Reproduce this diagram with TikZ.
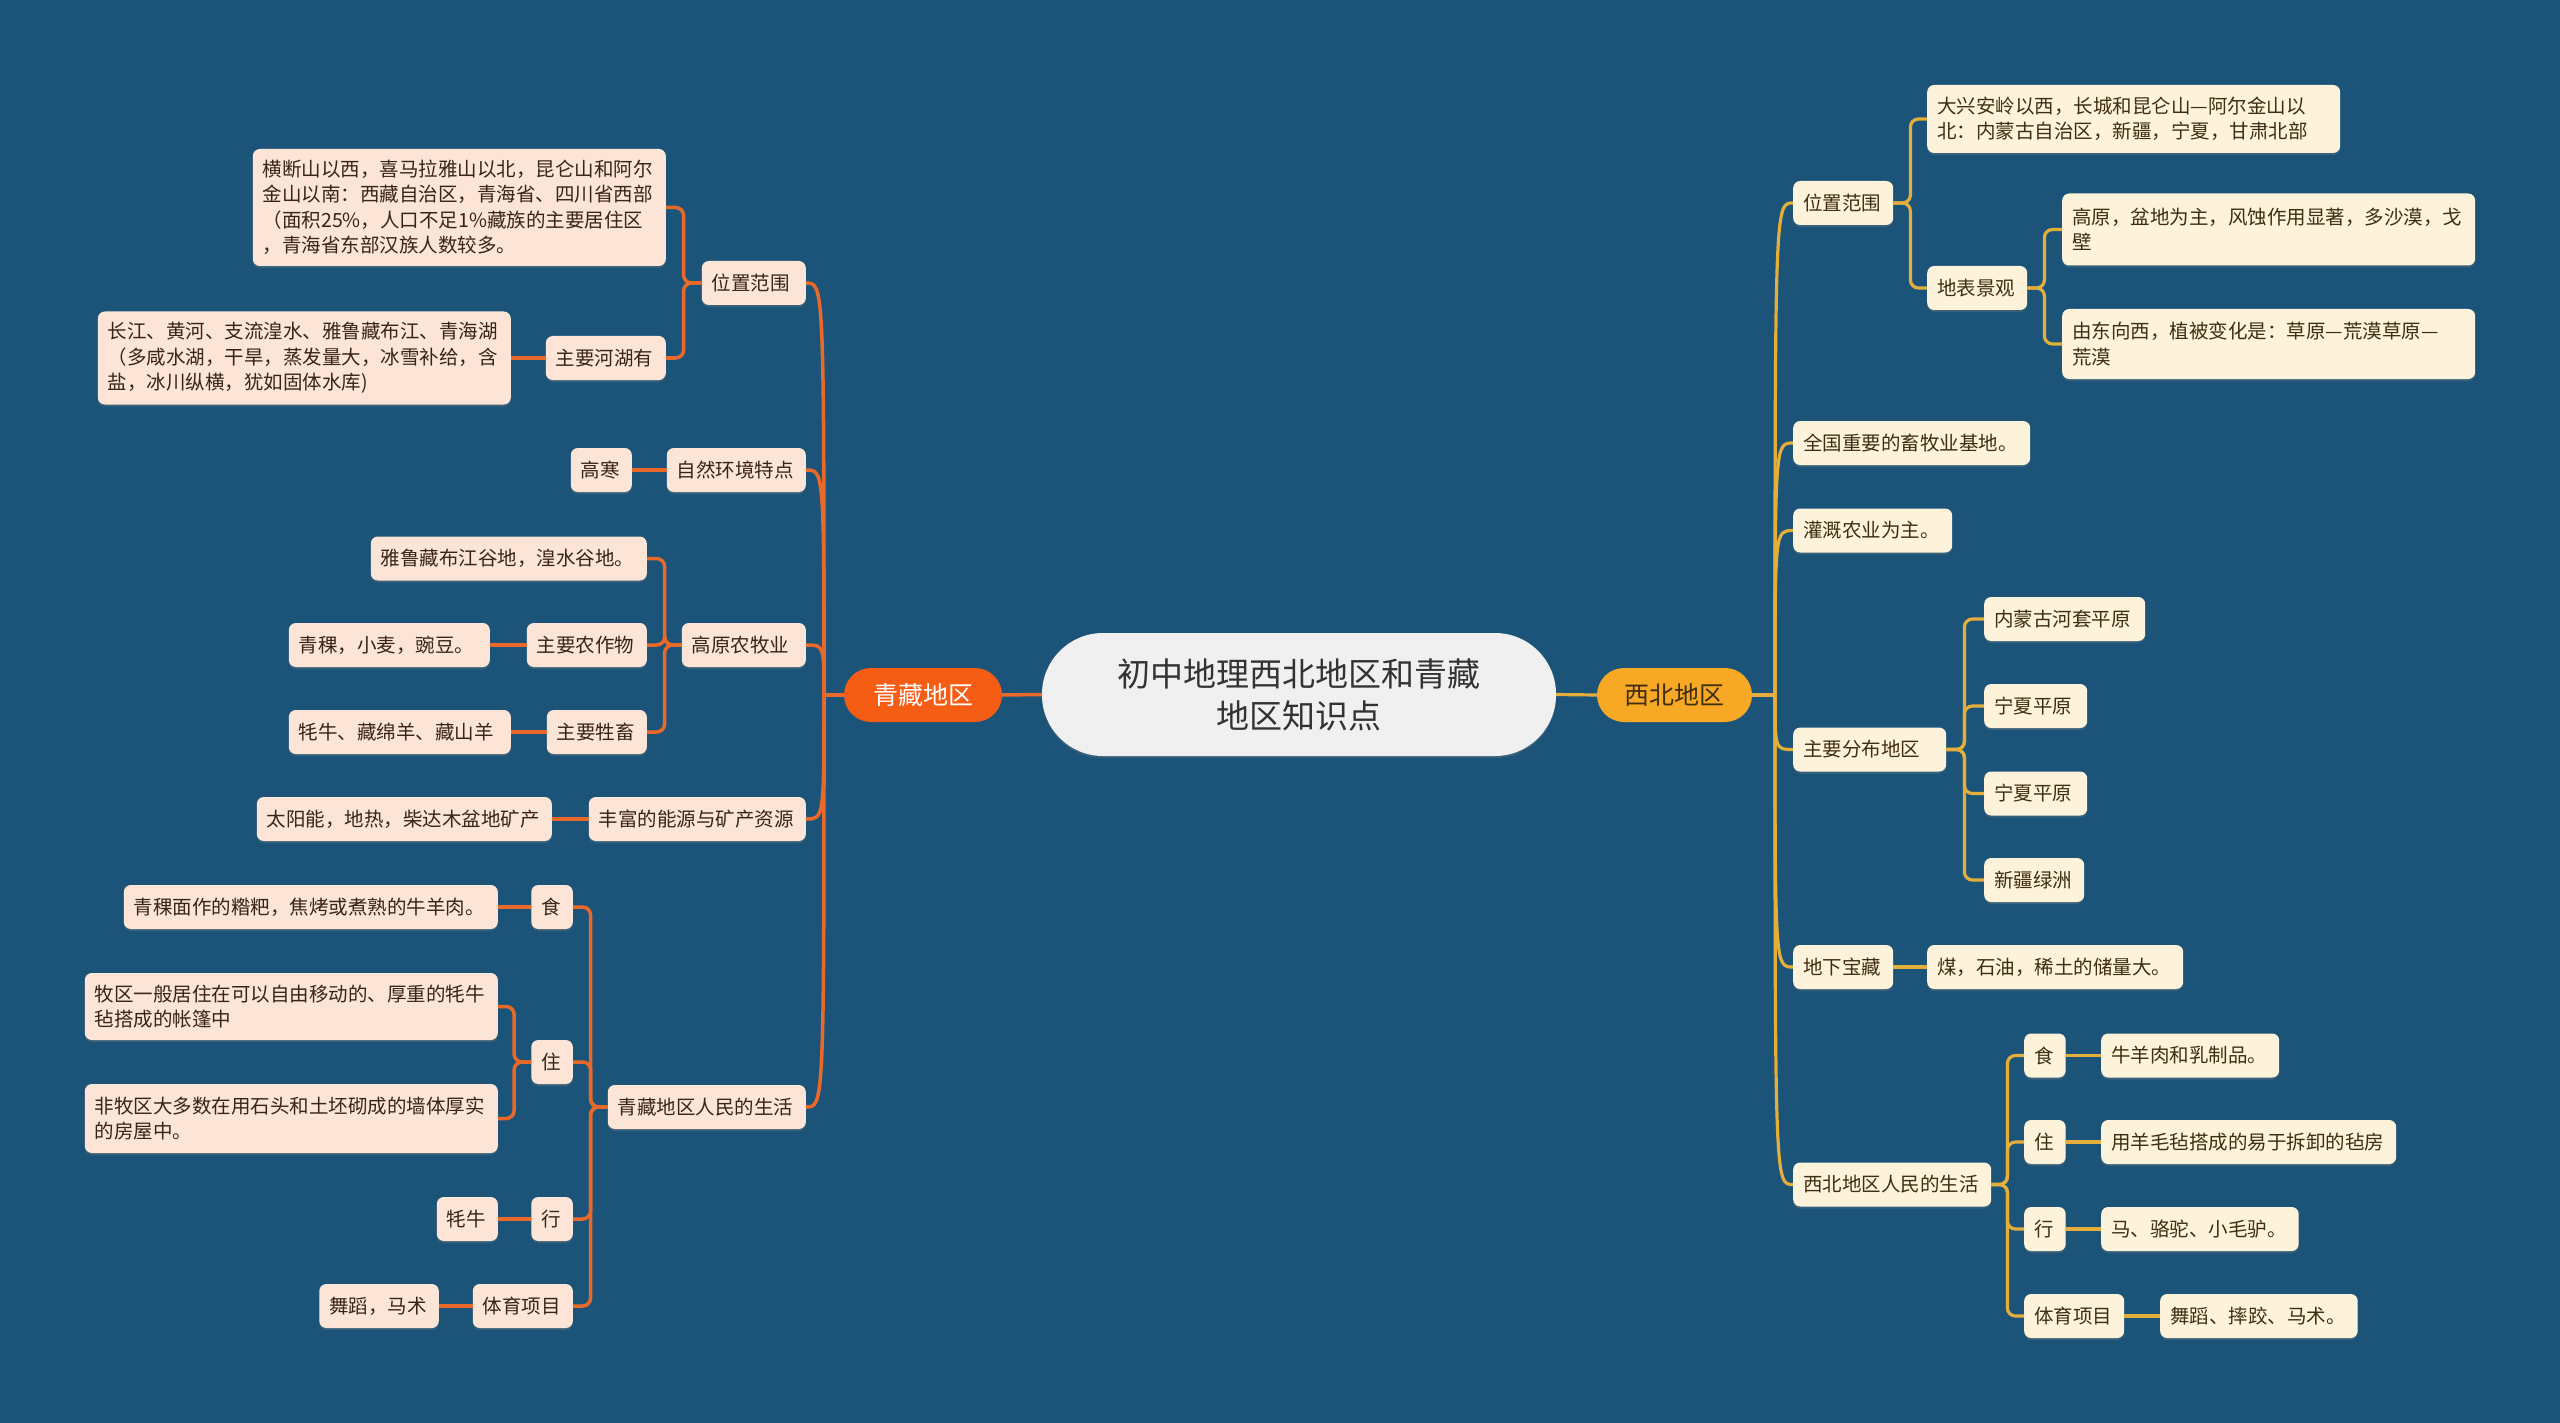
\documentclass[tikz,border=0pt]{standalone}
\usepackage{fontspec}
\setmainfont{Noto Sans CJK SC}
\usetikzlibrary{shadows}
\definecolor{bg}{HTML}{1B5478}
\definecolor{lfill}{HTML}{FCE4D6}
\definecolor{rfill}{HTML}{FDF2DA}
\definecolor{ltext}{HTML}{3A2418}
\definecolor{rtext}{HTML}{3F2E12}
\definecolor{lline}{HTML}{E8692A}
\definecolor{rline}{HTML}{E3AE3C}
\definecolor{qzfill}{HTML}{F55D15}
\definecolor{xbfill}{HTML}{F7A824}
\definecolor{rootfill}{HTML}{F0F0F0}
\tikzset{
  box/.style={rounded corners=7pt, inner xsep=10pt, inner ysep=0pt, align=left,
    font=\fontsize{19.5}{25.5}\selectfont, minimum height=44pt,
    drop shadow={shadow xshift=0pt,shadow yshift=-2pt,opacity=0.3}},
  lbox/.style={box, fill=lfill, text=ltext, anchor=east},
  rbox/.style={box, fill=rfill, text=rtext, anchor=west},
  lc/.style={draw=lline, line width=3.5pt},
  rc/.style={draw=rline, line width=3.2pt},
  elbow/.style={rounded corners=8pt},
}
\begin{document}
\begin{tikzpicture}[x=1pt,y=-1pt]
\fill[bg] (0,0) rectangle (2560,1423);
\useasboundingbox (0,0) rectangle (2560,1423);

% root and main branches
\node[rounded corners=61pt, fill=rootfill, text=black!80, align=center,
  font=\fontsize{33}{42}\selectfont, minimum width=514pt, minimum height=123pt,
  drop shadow={shadow xshift=0pt,shadow yshift=-2pt,opacity=0.3}] (root) at (1299,694.5) {初中地理西北地区和青藏\\地区知识点};
\node[rounded corners=27pt, fill=qzfill, text=white, font=\fontsize{25}{30}\selectfont,
  minimum width=158pt, minimum height=54pt, inner sep=0pt] (qz) at (923,695) {青藏地区};
\node[rounded corners=27pt, fill=xbfill, text=rtext, font=\fontsize{25}{30}\selectfont,
  minimum width=155pt, minimum height=54pt, inner sep=0pt] (xb) at (1674.5,695) {西北地区};

% left level 1
\node[lbox, text width=84pt] (lwz) at (806,283) {位置范围};
\node[lbox, text width=119pt] (lzr) at (806,470) {自然环境特点};
\node[lbox, text width=104pt] (lgy) at (806,645) {高原农牧业};
\node[lbox, text width=197pt] (lny) at (806,819) {丰富的能源与矿产资源};
\node[lbox, text width=178pt] (lsh) at (806,1107) {青藏地区人民的生活};

% left level 2+
\node[lbox, text width=393pt, minimum height=117pt] (lwza) at (666,207.5) {横断山以西，喜马拉雅山以北，昆仑山和阿尔\\金山以南：西藏自治区，青海省、四川省西部\\（面积25\%，人口不足1\%藏族的主要居住区\\，青海省东部汉族人数较多。};
\node[lbox, text width=100pt] (lhh) at (666,358) {主要河湖有};
\node[lbox, text width=393pt, minimum height=93pt] (lhha) at (511,358) {长江、黄河、支流湟水、雅鲁藏布江、青海湖\\（多咸水湖，干旱，蒸发量大，冰雪补给，含\\盐，冰川纵横，犹如固体水库)};
\node[lbox, text width=41pt] (lgh) at (632,470) {高寒};
\node[lbox, text width=256pt] (lgd) at (647,558.5) {雅鲁藏布江谷地，湟水谷地。};
\node[lbox, text width=100pt] (lnz) at (647,645) {主要农作物};
\node[lbox, text width=181pt] (lnza) at (490,645) {青稞，小麦，豌豆。};
\node[lbox, text width=80pt] (lss) at (647,732) {主要牲畜};
\node[lbox, text width=202pt] (lssa) at (511,732) {牦牛、藏绵羊、藏山羊};
\node[lbox, text width=275pt] (lnya) at (552,819) {太阳能，地热，柴达木盆地矿产};
\node[lbox, text width=21.5pt] (ls) at (573,907) {食};
\node[lbox, text width=354pt] (lsa) at (498,907) {青稞面作的糌粑，焦烤或煮熟的牛羊肉。};
\node[lbox, text width=21.5pt] (lz) at (573,1062) {住};
\node[lbox, text width=393pt, minimum height=67pt] (lza) at (498,1006.5) {牧区一般居住在可以自由移动的、厚重的牦牛\\毡搭成的帐篷中};
\node[lbox, text width=393pt, minimum height=69pt] (lzb) at (498,1118.5) {非牧区大多数在用石头和土坯砌成的墙体厚实\\的房屋中。};
\node[lbox, text width=21.5pt] (lx) at (573,1219) {行};
\node[lbox, text width=41pt] (lxa) at (498,1219) {牦牛};
\node[lbox, text width=80pt] (lty) at (573,1306) {体育项目};
\node[lbox, text width=99.5pt] (ltya) at (439,1306) {舞蹈，马术};

% right level 1
\node[rbox, text width=80pt] (rwz) at (1793,203) {位置范围};
\node[rbox, text width=217pt] (rxm) at (1793,443) {全国重要的畜牧业基地。};
\node[rbox, text width=139pt] (rgg) at (1793,530.5) {灌溉农业为主。};
\node[rbox, text width=133pt] (rfb) at (1793,749.5) {主要分布地区};
\node[rbox, text width=80pt] (rdx) at (1793,967) {地下宝藏};
\node[rbox, text width=178pt] (rsh) at (1793,1184.5) {西北地区人民的生活};

% right level 2+
\node[rbox, text width=393pt, minimum height=68pt] (rwza) at (1927,119) {大兴安岭以西，长城和昆仑山—阿尔金山以\\北：内蒙古自治区，新疆，宁夏，甘肃北部};
\node[rbox, text width=80pt] (rdb) at (1927,288) {地表景观};
\node[rbox, text width=393pt, minimum height=72pt] (rdba) at (2062,229.5) {高原，盆地为主，风蚀作用显著，多沙漠，戈\\壁};
\node[rbox, text width=393pt, minimum height=70pt] (rdbb) at (2062,344) {由东向西，植被变化是：草原—荒漠草原—\\荒漠};
\node[rbox, text width=141pt] (rfba) at (1984,619) {内蒙古河套平原};
\node[rbox, text width=83pt] (rfbb) at (1984,706) {宁夏平原};
\node[rbox, text width=83pt] (rfbc) at (1984,793.5) {宁夏平原};
\node[rbox, text width=80pt] (rfbd) at (1984,880) {新疆绿洲};
\node[rbox, text width=236pt] (rdxa) at (1927,967) {煤，石油，稀土的储量大。};
\node[rbox, text width=21.5pt] (rs) at (2024,1055.5) {食};
\node[rbox, text width=158pt] (rsa) at (2101,1055.5) {牛羊肉和乳制品。};
\node[rbox, text width=21.5pt] (rz) at (2024,1142) {住};
\node[rbox, text width=275pt] (rza) at (2101,1142) {用羊毛毡搭成的易于拆卸的毡房};
\node[rbox, text width=21.5pt] (rx) at (2024,1229) {行};
\node[rbox, text width=177.5pt] (rxa) at (2101,1229) {马、骆驼、小毛驴。};
\node[rbox, text width=80pt] (rty) at (2024,1316) {体育项目};
\node[rbox, text width=177.5pt] (rtya) at (2160,1316) {舞蹈、摔跤、马术。};

% connectors: root
\draw[lc] (root.west) -- (qz.east);
\draw[rc] (root.east) -- (xb.west);

% left trunk
\coordinate (lt) at (824,695);
\foreach \c in {lwz,lzr,lgy,lny,lsh}{
  \draw[lc] (qz.west) -- (lt) .. controls (lt |- \c.east) .. (\c.east);
}
% right trunk
\coordinate (rt) at (1775,695);
\foreach \c in {rwz,rxm,rgg,rfb,rdx,rsh}{
  \draw[rc] (xb.east) -- (rt) .. controls (rt |- \c.east) .. (\c.east -| \c.west);
}

% left elbows
\foreach \c in {lwza,lhh}{ \draw[lc,elbow] (lwz.west) -- ++(-18,0) |- (\c.east); }
\draw[lc] (lhh.west) -- (lhha.east);
\draw[lc] (lzr.west) -- (lgh.east);
\foreach \c in {lgd,lnz,lss}{ \draw[lc,elbow] (lgy.west) -- ++(-17,0) |- (\c.east); }
\draw[lc] (lnz.west) -- (lnza.east);
\draw[lc] (lss.west) -- (lssa.east);
\draw[lc] (lny.west) -- (lnya.east);
\foreach \c in {ls,lz,lx,lty}{ \draw[lc,elbow] (lsh.west) -- ++(-17,0) |- (\c.east); }
\draw[lc] (ls.west) -- (lsa.east);
\foreach \c in {lza,lzb}{ \draw[lc,elbow] (lz.west) -- ++(-17,0) |- (\c.east); }
\draw[lc] (lx.west) -- (lxa.east);
\draw[lc] (lty.west) -- (ltya.east);

% right elbows
\foreach \c in {rwza,rdb}{ \draw[rc,elbow] (rwz.east) -- ++(17,0) |- (\c.west); }
\foreach \c in {rdba,rdbb}{ \draw[rc,elbow] (rdb.east) -- ++(17,0) |- (\c.west); }
\foreach \c in {rfba,rfbb,rfbc,rfbd}{ \draw[rc,elbow] (rfb.east) -- ++(18,0) |- (\c.west); }
\draw[rc] (rdx.east) -- (rdxa.west);
\foreach \c in {rs,rz,rx,rty}{ \draw[rc,elbow] (rsh.east) -- ++(16,0) |- (\c.west); }
\draw[rc] (rs.east) -- (rsa.west);
\draw[rc] (rz.east) -- (rza.west);
\draw[rc] (rx.east) -- (rxa.west);
\draw[rc] (rty.east) -- (rtya.west);
\end{tikzpicture}
\end{document}
